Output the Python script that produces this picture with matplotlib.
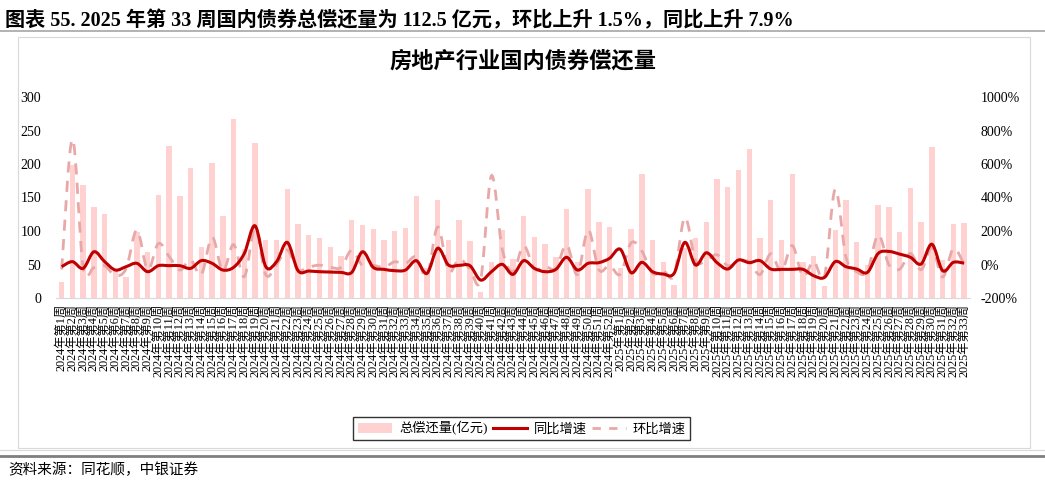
import numpy as np
import matplotlib
matplotlib.use("Agg")
import matplotlib.pyplot as plt
from matplotlib.path import Path
from matplotlib.patches import PathPatch, Rectangle
from matplotlib.lines import Line2D
from matplotlib.patches import Patch

# ----------------------
# data
# ----------------------
weeks = ["2024年第%d周" % i for i in range(1, 53)] + ["2025年第%d周" % i for i in range(1, 34)]

# total repayment, 100m yuan
repay = [23.4, 198.5, 168, 136, 125, 42, 32, 98, 68, 153,
         227, 152, 194, 76, 201, 122, 267, 73, 231, 87,
         87, 162, 110, 93.5, 90, 76, 63, 117, 108.5, 103.5,
         86, 99.5, 104.3, 152, 45, 146, 87, 116, 84.5, 8.5,
         54, 101, 58, 123, 91, 80.6, 61, 133, 53, 163,
         113, 106, 45, 103, 185.6, 86.6, 54, 19.4, 74, 90,
         113, 178, 165.7, 190.5, 222, 89.5, 146.8, 87, 185.6, 53,
         63, 18.4, 101, 145.8, 83.6, 50, 139, 136, 98.5, 164,
         113, 225, 56.7, 110.8, 112.5]

# yoy growth, %
yoy = [-13, 17, -23, 76, 17, -33, -13, 7, -43, -7,
       -7, -7, -23, 23, 7, -33, -17, 66, 231, -13,
       17, 132, -37, -39, -43, -45, -47, -47, 76, -17,
       -29, -37, -33, 23, -53, 97, -3, -5, -7, -93,
       -43, 1, -59, 23, -23, -43, -29, 43, -33, 7,
       11, 37, 91, -49, 13, -43, -57, -53, 132, -3,
       70, 11, -27, 27, 11, 23, -27, -29, -29, -29,
       -67, -77, 17, -13, -27, -47, 66, 78, 62, 43,
       3, 121, -37, 13, 7.9]

# wow growth, %
wow = [-30, 748, -15, -19, -8, -66, -24, 206, -31, 125,
       48, -33, 28, -61, 164, -39, 119, -73, 216, -62,
       0, 86, -32, -15, -4, -16, -17, 86, -7, -5,
       -17, 16, 5, 46, -70, 224, -40, 33, -27, -90,
       530, 94, -43, 112, -26, -11, -24, 118, -60, 207,
       -31, -6, -58, 129, 80, -53, -38, -64, 281, 22,
       26, 58, -7, 15, 17, -60, 64, -41, 113, -71,
       19, -71, 449, 44, -43, -40, 178, -2, -28, 66,
       -31, 99, -75, 95, 1.5]

left_ticks = [0, 50, 100, 150, 200, 250, 300]
right_ticks = [-200, 0, 200, 400, 600, 800, 1000]

FONT = ["Liberation Serif", "Noto Sans CJK SC"]
BAR_C = "#FFD1D1"
YOY_C = "#C00000"
WOW_C = "#E8A8A8"


def smooth_path(x, y):
    # excel-like smoothed line: bezier segments with catmull-rom tangents
    pts = np.column_stack([x, y]).astype(float)
    n = len(pts)
    verts = [pts[0]]
    codes = [Path.MOVETO]
    for i in range(n - 1):
        p0 = pts[i - 1] if i > 0 else pts[i]
        p1 = pts[i]
        p2 = pts[i + 1]
        p3 = pts[i + 2] if i + 2 < n else pts[i + 1]
        c1 = p1 + (p2 - p0) / 6.0
        c2 = p2 - (p3 - p1) / 6.0
        verts += [c1, c2, p2]
        codes += [Path.CURVE4] * 3
    return Path(verts, codes)


fig = plt.figure(figsize=(10.45, 4.83), dpi=100)

# header
fig.text(0.005, 0.978, "图表 55. 2025 年第 33 周国内债券总偿还量为 112.5 亿元，环比上升 1.5%，同比上升 7.9%",
         family=FONT, fontsize=14.5, fontweight="bold", va="top", ha="left")
fig.add_artist(Line2D([0, 1], [1 - 31 / 483, 1 - 31 / 483], color="#A6A6A6", lw=1.2))

# chart frame
fig.add_artist(Rectangle((18 / 1045, 1 - 448 / 483), (1030 - 18) / 1045, (448 - 37) / 483,
                         fill=False, edgecolor="#D9D9D9", lw=0.8))

fig.text(0.5, 1 - 62 / 483, "房地产行业国内债券偿还量", family=FONT, fontsize=16,
         fontweight="bold", ha="center", va="center")

# footer
fig.add_artist(Line2D([0, 1], [1 - 450 / 483, 1 - 450 / 483], color="#D9D9D9", lw=0.8))
fig.add_artist(Line2D([0, 1], [1 - 456 / 483, 1 - 456 / 483], color="#7F7F7F", lw=2))
fig.text(0.008, 1 - 470 / 483, "资料来源：同花顺，中银证券", family=FONT, fontsize=10.5,
         ha="left", va="center", style="italic")

ax = fig.add_axes([56.3 / 1045, 185 / 483, (969.5 - 56.3) / 1045, 201 / 483])
x = np.arange(len(weeks))
ax.bar(x, repay, width=0.5, color=BAR_C, zorder=1)
ax.set_xlim(-0.5, len(weeks) - 0.5)
ax.set_ylim(0, 300)
ax.set_yticks(left_ticks)
ax.set_yticklabels([str(v) for v in left_ticks], family=FONT, fontsize=10)
ax.set_xticks(x)
ax.set_xticklabels(weeks, rotation=90, family=FONT, fontsize=8.8, va="top")
ax.tick_params(axis="both", length=0, pad=4)
ax.tick_params(axis="y", pad=11)
for s in ["top", "left", "right"]:
    ax.spines[s].set_visible(False)
ax.spines["bottom"].set_color("#D9D9D9")

ax2 = ax.twinx()
ax2.set_ylim(-200, 1000)
ax2.set_yticks(right_ticks)
ax2.set_yticklabels(["%d%%" % v for v in right_ticks], family=FONT, fontsize=10)
ax2.tick_params(axis="y", length=0, pad=8)
for s in ["top", "left", "right", "bottom"]:
    ax2.spines[s].set_visible(False)

ax2.add_patch(PathPatch(smooth_path(x, wow), fill=False, edgecolor=WOW_C, lw=2,
                        linestyle=(0, (4, 3)), zorder=2))
ax2.add_patch(PathPatch(smooth_path(x, yoy), fill=False, edgecolor=YOY_C, lw=2.2, zorder=3))

handles = [Patch(facecolor=BAR_C, edgecolor="none"),
           Line2D([], [], color=YOY_C, lw=2.2),
           Line2D([], [], color=WOW_C, lw=2, linestyle=(0, (3, 3)))]
labels = ["总偿还量(亿元)", "同比增速", "环比增速"]
leg = fig.legend(handles, labels, loc="center", bbox_to_anchor=(0.4995, 1 - 428.5 / 483), ncol=3,
                 prop={"family": FONT, "size": 9.5}, frameon=True, fancybox=False,
                 edgecolor="black", handlelength=2.6, columnspacing=0.4, handletextpad=0.5,
                 borderpad=0.35)
leg.get_frame().set_linewidth(1)

fig.savefig("out.png", dpi=100)
